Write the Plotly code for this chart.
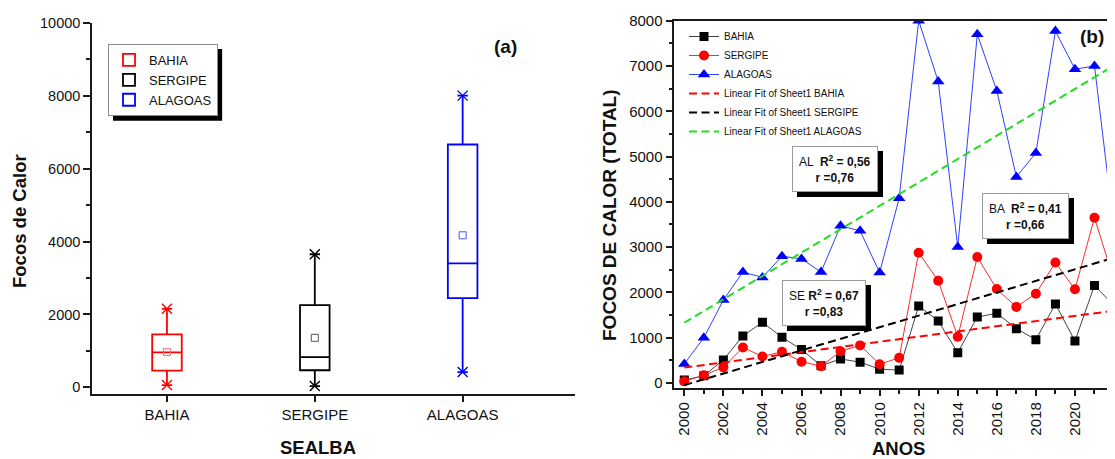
import numpy as np
import plotly.graph_objects as go

# ---------------- data ----------------
years = list(range(2000, 2023))
states = ["BAHIA", "SERGIPE", "ALAGOAS"]
bahia = [63, 160, 510, 1040, 1340, 1010, 740, 380, 530, 460, 305, 285,
         1700, 1370, 670, 1455, 1540, 1200, 957, 1745, 927, 2155, 1705]
sergipe = [36, 170, 345, 785, 585, 690, 470, 370, 700, 830, 415, 555,
           2875, 2258, 1022, 2780, 2075, 1680, 1973, 2660, 2068, 3650, 2265]
alagoas = [420, 1000, 1830, 2450, 2330, 2800, 2740, 2450, 3470, 3360, 2440, 4080,
           8000, 6660, 3000, 7700, 6450, 4550, 5080, 7770, 6930, 7000, 3400]
fit_labels = ["Linear Fit of Sheet1 BAHIA", "Linear Fit of Sheet1 SERGIPE",
              "Linear Fit of Sheet1 ALAGOAS"]
stats_text = {
    "AL": "AL  <b>R<sup>2</sup> = 0,56</b><br><b>r =0,76</b>",
    "SE": "SE <b>R<sup>2</sup> = 0,67</b><br><b>r =0,83</b>",
    "BA": "BA  <b>R<sup>2</sup> = 0,41</b><br><b>r =0,66</b>",
}

# page offset of the plot div (default body margin) -> work in page pixels
OFF = 8
W, H = 1115 - OFF, 459 - OFF
FONT = "Arial, Liberation Sans, sans-serif"


def px(x):
    return (x - OFF) / W


def py(y):
    return 1 - (y - OFF) / H


fig = go.Figure()

# ---------------- panel (a): box plots ----------------
box_colors = ["#ff0000", "#000000", "#0000ff"]
mean_colors = ["#f07070", "#555555", "#5050ff"]
for i, (name, vals) in enumerate(zip(states, [bahia, sergipe, alagoas])):
    arr = np.array(vals, dtype=float)
    fig.add_trace(go.Box(
        y=arr, x=[i] * len(arr), name=name, width=0.2,
        quartilemethod="exclusive", boxpoints=False,
        line=dict(color=box_colors[i], width=1.8),
        fillcolor="rgba(255,255,255,0)", whiskerwidth=0.35,
        xaxis="x", yaxis="y", legend="legend", hoverinfo="skip"))
    fig.add_trace(go.Scatter(
        x=[i], y=[arr.mean()], mode="markers", showlegend=False,
        marker=dict(symbol="square-open", size=7, color=mean_colors[i],
                    line=dict(width=1, color=mean_colors[i])),
        xaxis="x", yaxis="y", hoverinfo="skip"))
    fig.add_trace(go.Scatter(
        x=[i, i], y=[arr.min(), arr.max()], mode="markers", showlegend=False,
        marker=dict(symbol="x-thin-open", size=10, color=box_colors[i],
                    line=dict(width=1.4, color=box_colors[i])),
        xaxis="x", yaxis="y", hoverinfo="skip"))

# ---------------- panel (b): time series ----------------
series = [
    ("BAHIA", bahia, "#000000", "square", 9, "#444444"),
    ("SERGIPE", sergipe, "#ff0000", "circle", 10, "#ff2a2a"),
    ("ALAGOAS", alagoas, "#0000ff", "triangle-up", 11, "#3040ff"),
]
for name, vals, c, sym, sz, lc in series:
    fig.add_trace(go.Scatter(
        x=years, y=vals, mode="lines+markers", name=name,
        line=dict(color=lc, width=1),
        marker=dict(symbol=sym, size=sz, color=c),
        xaxis="x2", yaxis="y2", legend="legend2", hoverinfo="skip"))

fit_colors = ["#ff0000", "#000000", "#22dd22"]
yr = np.array(years, dtype=float)
for (name, vals, *_), lab, fc in zip(series, fit_labels, fit_colors):
    k, b = np.polyfit(yr, np.array(vals, dtype=float), 1)
    fig.add_trace(go.Scatter(
        x=years, y=k * yr + b, mode="lines", name=lab,
        line=dict(color=fc, width=2, dash="8px,4.5px"),
        xaxis="x2", yaxis="y2", legend="legend2", hoverinfo="skip"))

# ---------------- layout ----------------
LC = "#1a1a1a"
common = dict(showgrid=False, zeroline=False, showline=True, linewidth=1.5,
              linecolor=LC, tickcolor=LC, tickwidth=1.5, automargin=False)
xr_a = [-0.507, 2.76]
yr_a = [-190, 10000]

LEG_FONT = 13
LEG_L, LEG_T = 108, 44

fig.update_layout(
    width=W, height=H, margin=dict(l=0, r=0, t=0, b=0, autoexpand=False),
    paper_bgcolor="white", plot_bgcolor="white",
    font=dict(family=FONT, color="#111"),
    boxmode="overlay",
    xaxis=dict(domain=[px(92), px(575)], range=xr_a, tickvals=[0, 1, 2],
               ticktext=states, ticks="outside", ticklen=6,
               tickfont=dict(size=15), anchor="y", **common),
    yaxis=dict(domain=[py(394.3), py(22.7)], range=yr_a, tick0=0, dtick=2000,
               tickformat="d",
               ticks="outside", ticklen=7, tickfont=dict(size=14.5),
               minor=dict(dtick=1000, ticks="outside", ticklen=4,
                          tickcolor=LC, tickwidth=1.5),
               anchor="x", **common),
    xaxis3=dict(overlaying="x", side="top", anchor="y", range=xr_a,
                tickvals=[0, 1, 2], ticks="inside", ticklen=6,
                showticklabels=False, **common),
    yaxis3=dict(overlaying="y", side="right", anchor="x", range=yr_a,
                tick0=0, dtick=1000, ticks="inside", ticklen=5,
                showticklabels=False, **common),
    xaxis2=dict(domain=[px(674.3), 1.0], range=[1999.488, 2022.05],
                tick0=2000, dtick=2, tickangle=-90, ticks="outside", ticklen=7,
                tickfont=dict(size=15), ticklabeloverflow="allow",
                minor=dict(dtick=1, ticks="outside", ticklen=5,
                           tickcolor=LC, tickwidth=1.5),
                mirror=True, anchor="y2", **common),
    yaxis2=dict(domain=[py(387.5), py(20.7)], range=[-100, 8000],
                tick0=0, dtick=1000, ticks="outside", ticklen=7,
                tickfont=dict(size=15), tickformat="d",
                minor=dict(dtick=500, ticks="outside", ticklen=4,
                           tickcolor=LC, tickwidth=1.5),
                anchor="x2", **common),
    legend=dict(x=px(LEG_L), y=py(LEG_T), xanchor="left", yanchor="top",
                bgcolor="white", bordercolor="#8a8a8a", borderwidth=1,
                font=dict(size=LEG_FONT, family=FONT, color="#111"),
                tracegroupgap=0),
    legend2=dict(x=px(684), y=py(22), xanchor="left", yanchor="top",
                 bgcolor="rgba(0,0,0,0)", borderwidth=0,
                 font=dict(size=10, family=FONT, color="#111"),
                 tracegroupgap=0),
)

# legend drop shadow for panel (a): size of plotly's legend box
item_h = max(LEG_FONT * 1.3, 16) + 3
leg_h = 3 * item_h + 12
leg_w = 4.78 * LEG_FONT + 47
fig.add_shape(type="rect", xref="paper", yref="paper",
              x0=px(LEG_L + 5), x1=px(LEG_L + 5 + leg_w),
              y0=py(LEG_T + 5 + leg_h), y1=py(LEG_T + 5),
              fillcolor="black", line=dict(width=0), layer="above")

annotations = []


def boxed(cx, cy, text):
    base = dict(xref="paper", yref="paper", x=px(cx), y=py(cy), text=text,
                xanchor="center", yanchor="middle",
                showarrow=False, align="center", borderpad=6, borderwidth=1)
    shadow = dict(base, bgcolor="black", bordercolor="black",
                  xshift=5, yshift=-5,
                  font=dict(size=12, family=FONT, color="black"))
    main = dict(base, bgcolor="white", bordercolor="#9a9a9a",
                font=dict(size=12, family=FONT, color="#111"))
    return [shadow, main]


annotations += boxed(834.5, 168.5, stats_text["AL"])
annotations += boxed(823.8, 302.8, stats_text["SE"])
annotations += boxed(1025.3, 215.8, stats_text["BA"])


def label(cx, cy, text, size, angle=0):
    return dict(xref="paper", yref="paper", x=px(cx), y=py(cy), text=text,
                xanchor="center", yanchor="middle", textangle=angle,
                showarrow=False, font=dict(size=size, family=FONT, color="#111"))


annotations += [
    label(505, 46.7, "<b>(a)</b>", 19),
    label(1092, 36.7, "<b>(b)</b>", 19),
    label(19, 221, "<b>Focos de Calor</b>", 18.5, -90),
    label(318.3, 447, "<b>SEALBA</b>", 18.5),
    label(898.3, 448.5, "<b>ANOS</b>", 18.5),
    label(609, 215, "<b>FOCOS DE CALOR (TOTAL)</b>", 19, -90),
]
fig.update_layout(annotations=annotations)

fig.write_html("out.html")
